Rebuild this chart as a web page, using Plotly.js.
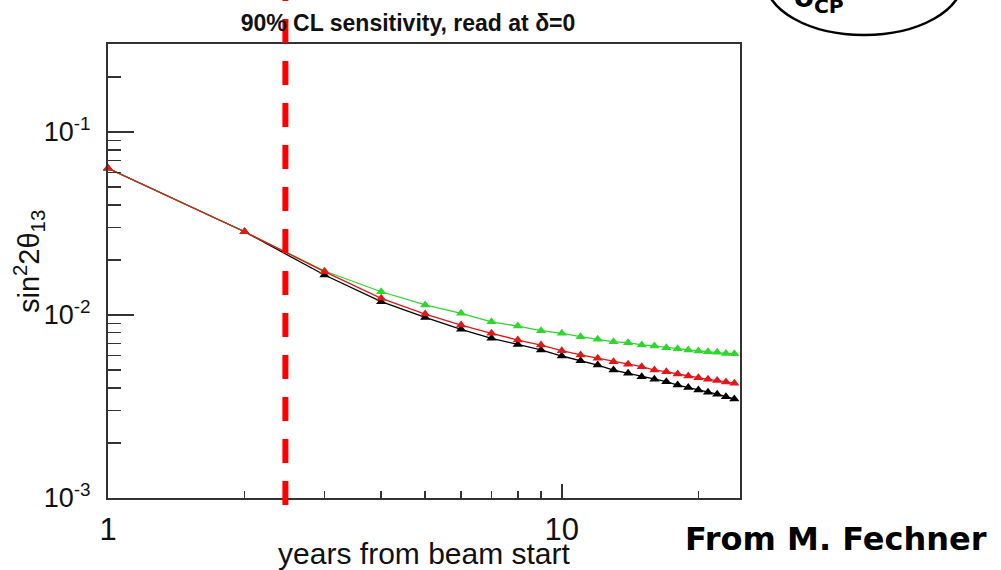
<!DOCTYPE html>
<html>
<head>
<meta charset="utf-8">
<script src="https://cdn.plot.ly/plotly-3.0.1.min.js"></script>
<style>html,body{margin:0;padding:0;background:#fff;}#chart{width:1001px;height:570px;}</style>
</head>
<body>
<div id="chart"></div>
<script>
// Years from beam start
const years = [1,2,3,4,5,6,7,8,9,10,11,12,13,14,15,16,17,18,19,20,21,22,23,24];
// 90% CL sensitivity on sin^2 2theta13 (three scenarios)
const blackSeries = [0.0634,0.0285,0.01655,0.01183,0.00970,0.00835,0.00746,0.00691,0.00644,0.00597,0.00562,0.00533,0.00500,0.00480,0.00460,0.00446,0.00432,0.00414,0.00402,0.00389,0.00378,0.00369,0.00358,0.00348];
const redSeries   = [0.0634,0.0285,0.01726,0.01233,0.01012,0.00881,0.00794,0.00730,0.00685,0.00638,0.00605,0.00580,0.00556,0.00538,0.00522,0.00500,0.00490,0.00476,0.00464,0.00454,0.00445,0.00438,0.00431,0.00424];
const greenSeries = [0.0634,0.0285,0.0174,0.01340,0.01135,0.01021,0.00918,0.00870,0.00821,0.00794,0.00761,0.00736,0.00714,0.00706,0.00686,0.00678,0.00663,0.00655,0.00644,0.00636,0.00630,0.00625,0.00617,0.00615];
// Vertical marker (years)
const markerYear = 2.46;
// Axis ranges and ticks
const xMin = 1, xMax = 24.7;
const yMin = 0.001, yMax = 0.3027;
const xMajorTicks = [1, 10];
const xMajorLabels = ['1', '10'];
const xMinorTicks = [2,3,4,5,6,7,8,9,20];
const yMajorTicks = [0.001, 0.01, 0.1];
const yMajorLabels = ['10<sup>-3</sup>', '10<sup>-2</sup>', '10<sup>-1</sup>'];
const yMinorTicks = [0.002,0.003,0.004,0.005,0.006,0.007,0.008,0.009,0.02,0.03,0.04,0.05,0.06,0.07,0.08,0.09,0.2,0.3];

const FONT = '"Liberation Sans", Arial, sans-serif';

function series(y, color) {
  return {
    x: years, y: y, type: 'scatter', mode: 'lines+markers',
    line: {color: color, width: 1.3},
    marker: {symbol: 'triangle-up', size: 9, color: color},
    showlegend: false, hoverinfo: 'x+y', cliponaxis: false
  };
}

const data = [
  series(blackSeries, '#000000'),
  series(greenSeries, '#2ed62e'),
  series(redSeries, '#e01818'),
  {x: [], y: [], xaxis: 'x2', yaxis: 'y2', type: 'scatter', mode: 'markers', showlegend: false, hoverinfo: 'skip'}
];

const rng = [Math.log10(xMin), Math.log10(xMax)];
const yrng = [Math.log10(yMin), Math.log10(yMax)];

const layout = {
  width: 1001, height: 570,
  margin: {l: 108, r: 261, t: 44, b: 72},
  paper_bgcolor: '#ffffff', plot_bgcolor: '#ffffff',
  font: {family: FONT, color: '#111'},
  title: {
    text: '<b>90% CL sensitivity, read at δ=0</b>',
    font: {family: FONT, size: 23, color: '#111'},
    x: 408/1001, xanchor: 'center', xref: 'container',
    y: 1 - 23/570, yanchor: 'middle', yref: 'container'
  },
  xaxis: {
    type: 'log', range: rng, autorange: false,
    tickvals: xMajorTicks, ticktext: xMajorLabels,
    ticks: 'inside', ticklen: 14, tickwidth: 1.5, tickcolor: '#333',
    showline: true, linecolor: '#333', linewidth: 2, mirror: true,
    showgrid: false, zeroline: false,
    tickfont: {family: FONT, size: 31, color: '#111'},
    ticklabelstandoff: 3,
    title: {text: 'years from beam start', font: {family: FONT, size: 30, color: '#111'}, standoff: 0}
  },
  yaxis: {
    type: 'log', range: yrng, autorange: false,
    tickvals: yMajorTicks, ticktext: yMajorLabels,
    ticks: 'inside', ticklen: 26, tickwidth: 1.5, tickcolor: '#333',
    showline: true, linecolor: '#333', linewidth: 2, mirror: true,
    showgrid: false, zeroline: false,
    tickfont: {family: FONT, size: 27, color: '#111'},
    ticklabelstandoff: 10
  },
  xaxis2: {
    type: 'log', range: rng, autorange: false, overlaying: 'x', anchor: 'y2', side: 'bottom',
    tickvals: xMinorTicks, ticks: 'inside', ticklen: 7, tickwidth: 1.5, tickcolor: '#333',
    showticklabels: false, showline: false, showgrid: false, zeroline: false
  },
  yaxis2: {
    type: 'log', range: yrng, autorange: false, overlaying: 'y', anchor: 'x2', side: 'left',
    tickvals: yMinorTicks, ticks: 'inside', ticklen: 13, tickwidth: 1.5, tickcolor: '#333',
    showticklabels: false, showline: false, showgrid: false, zeroline: false
  },
  shapes: [
    {type: 'line', xref: 'x', yref: 'paper', x0: markerYear, x1: markerYear,
     y0: (498 + 23) / 454, y1: (498 - 505) / 454,
     line: {color: '#ff0000', width: 6, dash: '24px,18px'}, layer: 'above'},
    {type: 'circle', xref: 'paper', yref: 'paper',
     x0: (765 - 108) / 632, x1: (963 - 108) / 632,
     y0: (498 - 35) / 454, y1: (498 + 76) / 454,
     line: {color: '#000', width: 2.5}, fillcolor: 'rgba(0,0,0,0)'}
  ],
  annotations: [
    {text: 'sin<sup>2</sup>2θ<sub>13</sub>', xref: 'paper', yref: 'paper',
     x: (29 - 108) / 632, y: (498 - 262) / 454, xanchor: 'center', yanchor: 'middle',
     textangle: -90, showarrow: false, font: {family: FONT, size: 29, color: '#111'}},
    {text: '<b>δ<sub>CP</sub></b>', xref: 'paper', yref: 'paper',
     x: (792 - 108) / 632, y: (498 + 1) / 454, xanchor: 'left', yanchor: 'middle',
     showarrow: false, font: {family: '"DejaVu Sans", sans-serif', size: 29, color: '#000'}},
    {text: '<b>From M. Fechner</b>', xref: 'paper', yref: 'paper',
     x: (683 - 108) / 632, y: (498 - 539) / 454, xanchor: 'left', yanchor: 'middle',
     showarrow: false, font: {family: '"DejaVu Sans", sans-serif', size: 32, color: '#000'}}
  ]
};

Plotly.newPlot('chart', data, layout, {staticPlot: true, displayModeBar: false});
</script>
</body>
</html>
